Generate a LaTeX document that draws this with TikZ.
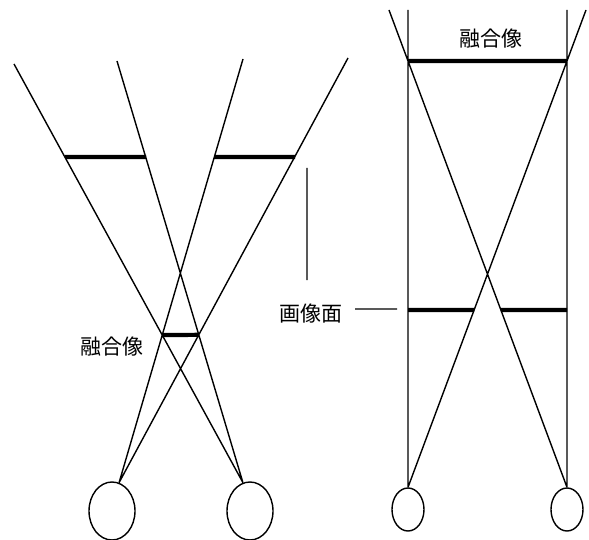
\documentclass[tikz,border=0pt]{standalone}
\usepackage{fontspec}
\newfontfamily\jpfont{Noto Sans CJK JP}
\usetikzlibrary{shapes.geometric}
\tikzset{
    eye/.style={draw, ellipse, inner sep=0pt},
    bar/.style={line width=4.2pt},
    lbl/.style={font=\jpfont\fontsize{21}{25}\selectfont, inner sep=0pt}
}

\begin{document}
\begin{tikzpicture}[x=1pt, y=-1pt, line width=1.4pt]
                        \useasboundingbox (0,0) rectangle (589,540);
                        \node[eye, minimum width=46pt, minimum height=58pt] (le) at (112, 511) {};
                        \node[eye, minimum width=46pt, minimum height=58pt] (re) at (250, 511) {};
                        \coordinate (lt) at (le.76);
                        \coordinate (rt) at (re.104);
                        \coordinate (a1) at (14, 64);
                        \coordinate (a2) at (117, 61);
                        \coordinate (a3) at (243, 59);
                        \coordinate (a4) at (348, 58);
                        \coordinate (b1) at (65, 157);
                        \coordinate (b2) at (146, 157);
                        \coordinate (b3) at (214, 157);
                        \coordinate (b4) at (295, 157);
                        \coordinate (c1) at (intersection of lt--a3 and rt--a1);
                        \coordinate (c2) at (intersection of lt--a4 and rt--a2);
                        \node[lbl] (fl) at (112, 347) {融合像};
                        \coordinate (v1) at (307, 168);
                        \coordinate (v2) at (307, 280);
                        \node[lbl] (pm) at (311, 314) {画像面};
                        \coordinate (m1) at (355, 309);
                        \coordinate (m2) at (397, 309);
                        \node[eye, minimum width=32pt, minimum height=43pt] (rle) at (408, 509.5) {};
                        \node[eye, minimum width=32pt, minimum height=43pt] (rre) at (567, 509.5) {};
                        \coordinate (p1) at (408, 10);
                        \coordinate (p2) at (567, 10);
                        \coordinate (q1) at (389, 10);
                        \coordinate (q2) at (586, 10);
                        \coordinate (t1) at (intersection of rre.north--q1 and rle.north--p1);
                        \coordinate (t2) at (intersection of rle.north--q2 and rre.north--p2);
                        \coordinate (s1) at (408, 310);
                        \coordinate (s4) at (567, 310);
                        \coordinate (s2) at (intersection of rle.north--q2 and s1--s4);
                        \coordinate (s3) at (intersection of rre.north--q1 and s1--s4);
                        \node[lbl] (fr) at (491, 39) {融合像};
                        \draw
                        (rt) -- (a1) (rt) -- (a2)
                        (lt) -- (a3) (lt) -- (a4)
                        (v1) -- (v2) (m1) -- (m2)
                        (rle.north) -- (p1) (rre.north) -- (p2)
                        (rle.north) -- (q2) (rre.north) -- (q1);
                        \draw[bar]
                        (b1) -- (b2) (b3) -- (b4)
                        (c1) -- (c2)
                        (t1) -- (t2)
                        (s1) -- (s2) (s3) -- (s4);
                    \end{tikzpicture}
\end{document}
